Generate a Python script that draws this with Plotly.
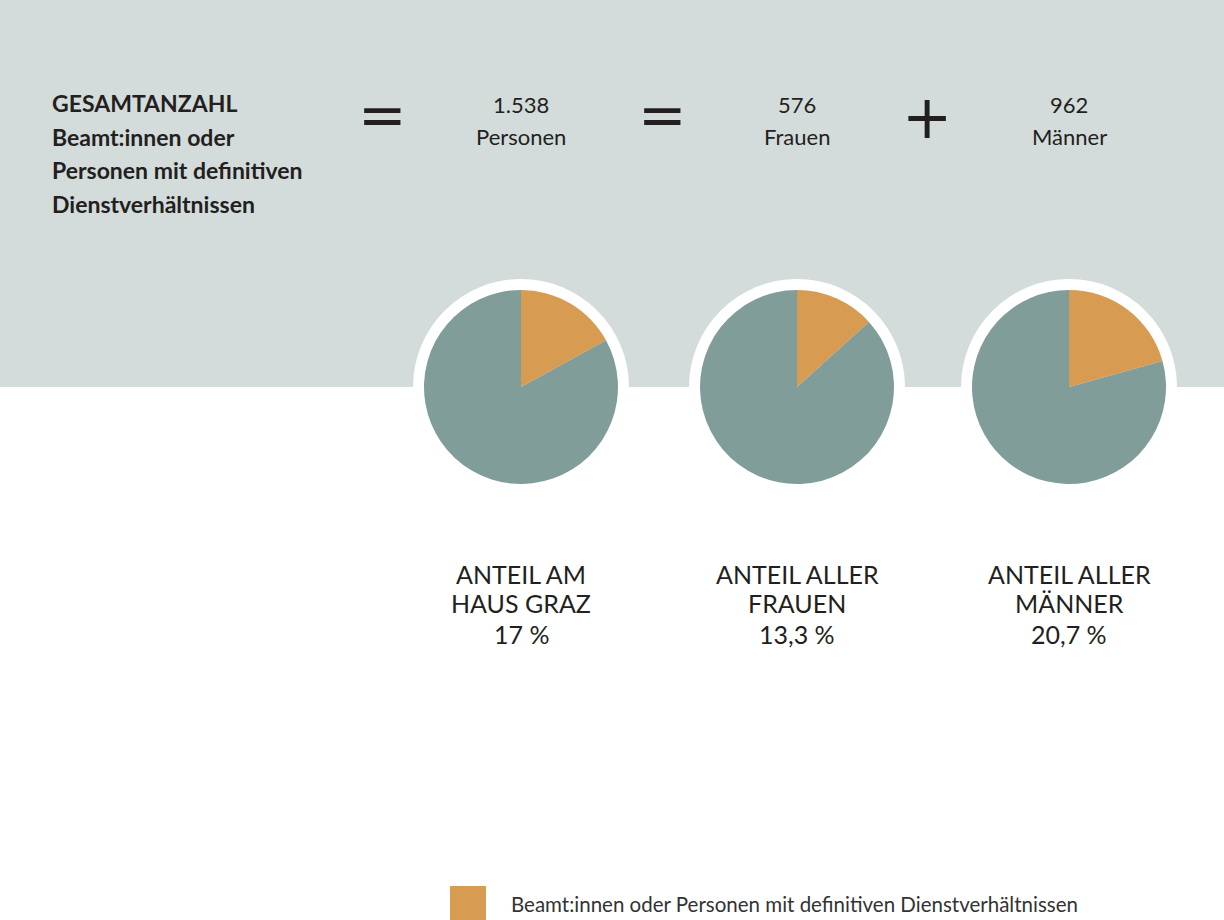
import plotly.graph_objects as go

W, H = 1224, 920

# ---- data ----
pie_labels = ["Beamt:innen oder Personen mit definitiven Dienstverhältnissen", "Andere"]
groups = ["ANTEIL AM<br>HAUS GRAZ", "ANTEIL ALLER<br>FRAUEN", "ANTEIL ALLER<br>MÄNNER"]
shares = [17.0, 13.3, 20.7]
share_labels = ["17 %", "13,3 %", "20,7 %"]
total_count = "1.538"
women_count = "576"
men_count = "962"
header_title = ["GESAMTANZAHL", "Beamt:innen oder", "Personen mit definitiven", "Dienstverhältnissen"]
count_units = ["Personen", "Frauen", "Männer"]
legend_text = "Beamt:innen oder Personen mit definitiven Dienstverhältnissen"

# ---- style ----
BG = "#d3dcdb"
TEAL = "#819d9a"
ORANGE = "#d89b52"
TXT = "#231f20"
FONT = "Lato"

def px(x):
    return x / W

def py(y):
    return 1 - y / H

centers_x = [521, 797, 1069]
cy = 387
r = 97
ring = 108

fig = go.Figure()

for i, s in enumerate(shares):
    cx = centers_x[i]
    fig.add_trace(go.Pie(
        labels=pie_labels,
        values=[s, 100 - s],
        sort=False,
        direction="clockwise",
        rotation=0,
        marker=dict(colors=[ORANGE, TEAL], line=dict(width=0)),
        textinfo="none",
        hoverinfo="label+percent",
        showlegend=False,
        domain=dict(x=[px(cx - r), px(cx + r)], y=[py(cy + r), py(cy - r)]),
    ))

shapes = [
    dict(type="rect", xref="paper", yref="paper", x0=0, x1=1, y0=py(cy), y1=1,
         fillcolor=BG, line=dict(width=0), layer="below"),
]
for cx in centers_x:
    shapes.append(dict(type="circle", xref="paper", yref="paper",
                       x0=px(cx - ring), x1=px(cx + ring), y0=py(cy + ring), y1=py(cy - ring),
                       fillcolor="white", line=dict(width=0), layer="below"))
# legend swatch
shapes.append(dict(type="rect", xref="paper", yref="paper",
                   x0=px(450), x1=px(486), y0=py(921), y1=py(886),
                   fillcolor=ORANGE, line=dict(width=0), layer="above"))

ann = []

def text(x, y, t, size, color=TXT, xanchor="center", weight="normal", family=FONT):
    ann.append(dict(x=px(x), y=py(y), xref="paper", yref="paper", text=t,
                    showarrow=False, xanchor=xanchor, yanchor="middle",
                    font=dict(family=family, size=size, color=color, weight=weight)))

# header left block
for j, line in enumerate(header_title):
    text(50, 103 + j * 33.7, line, 23, xanchor="left", weight="bold")

# equation
text(382, 115, "=", 58, family="DejaVu Sans")
text(662, 115, "=", 58, family="DejaVu Sans")
text(927, 117, "+", 60, family="DejaVu Sans")
counts = [total_count, women_count, men_count]
for i, cx in enumerate(centers_x):
    text(cx, 104, counts[i], 22)
    text(cx, 137, count_units[i], 22)

# bottom labels
for i, cx in enumerate(centers_x):
    l1, l2 = groups[i].split("<br>")
    text(cx, 574, l1, 25)
    text(cx, 603, l2, 25)
    text(cx, 634, share_labels[i], 25)

# legend
text(509, 904, legend_text, 20.5, color="#333333", xanchor="left")

fig.update_layout(
    width=W, height=H,
    margin=dict(l=0, r=0, t=0, b=0),
    paper_bgcolor="white",
    plot_bgcolor="white",
    shapes=shapes,
    annotations=ann,
    showlegend=False,
)

fig.write_html("out.html", config={"displayModeBar": False},
               post_script="document.body.style.margin='0';document.body.style.overflow='hidden';")
